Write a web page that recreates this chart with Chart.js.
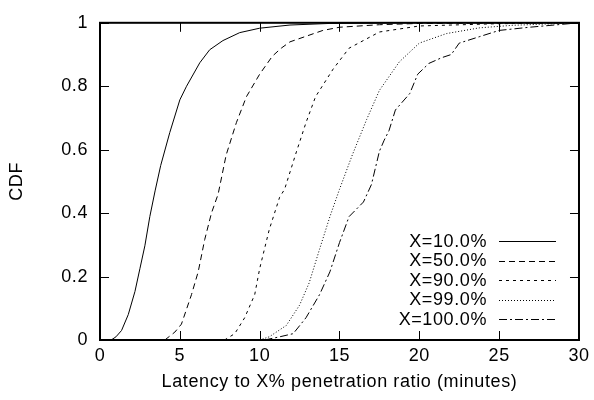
<!DOCTYPE html>
<html>
<head>
<meta charset="utf-8">
<script src="https://cdn.jsdelivr.net/npm/chart.js@4"></script>
<style>
  html, body { margin: 0; padding: 0; background: #fff; }
  #wrap { width: 594px; height: 400px; }
</style>
</head>
<body>
<div id="wrap"><canvas id="cdfChart" width="594" height="400"></canvas></div>
<script>
// series (minutes, CDF)
var labels = ['X=10.0%', 'X=50.0%', 'X=90.0%', 'X=99.0%', 'X=100.0%'];

var x10 = [0.7, 1.0, 1.35, 1.77, 2.19, 2.5, 2.81, 3.12, 3.45, 3.8, 4.37, 5.0, 5.42, 6.25, 6.87, 7.7, 8.75, 10, 11.9, 14.4, 20, 30];
var y10 = [0, 0.01, 0.03, 0.08, 0.153, 0.225, 0.297, 0.389, 0.47, 0.55, 0.654, 0.757, 0.80, 0.874, 0.915, 0.944, 0.969, 0.983, 0.993, 0.998, 1, 1];

var x50 = [4.06, 4.69, 5.1, 5.73, 6.15, 6.56, 6.98, 7.4, 7.9, 8.54, 9.17, 10, 10.8, 11.35, 11.9, 13.96, 15, 17.5, 20, 30];
var y50 = [0, 0.025, 0.05, 0.143, 0.215, 0.317, 0.40, 0.46, 0.583, 0.685, 0.767, 0.838, 0.895, 0.92, 0.94, 0.976, 0.986, 0.994, 0.998, 1];

var x90 = [7.8, 8.44, 9.06, 9.69, 10, 10.6, 11.25, 11.56, 12.3, 12.9, 13.5, 14.6, 15.6, 17.5, 20, 24.8, 30];
var y90 = [0, 0.02, 0.07, 0.143, 0.225, 0.348, 0.45, 0.475, 0.593, 0.685, 0.767, 0.854, 0.92, 0.971, 0.99, 0.997, 1];

var x99 = [10, 10.6, 11.67, 12.5, 13.1, 13.75, 14.4, 15, 15.8, 16.7, 17.5, 18.75, 20, 21.7, 23.75, 25.8, 30];
var y99 = [0, 0.01, 0.046, 0.11, 0.18, 0.286, 0.389, 0.475, 0.583, 0.695, 0.787, 0.877, 0.936, 0.966, 0.984, 0.992, 1];

var x100 = [10.3, 11.25, 12.1, 12.9, 13.75, 14.4, 15, 15.6, 16.5, 17, 17.5, 17.8, 18.1, 18.5, 19.4, 19.9, 20.6, 21.4, 22, 22.5, 23.75, 25, 26.9, 30];
var y100 = [0, 0.01, 0.02, 0.07, 0.143, 0.215, 0.307, 0.389, 0.435, 0.49, 0.595, 0.63, 0.66, 0.725, 0.777, 0.838, 0.872, 0.89, 0.9, 0.936, 0.956, 0.976, 0.986, 1];

var xTicks = [0, 5, 10, 15, 20, 25, 30];
var yTicks = [0, 0.2, 0.4, 0.6, 0.8, 1];

var allX = [x10, x50, x90, x99, x100];
var allY = [y10, y50, y90, y99, y100];
var dashes = [[], [6, 4], [3, 4], [1, 2], [8, 3, 2, 3]];

function toPoints(xs, ys) {
    var pts = [];
    for (var i = 0; i < xs.length; i++) pts.push({ x: xs[i], y: ys[i] });
    return pts;
}

var datasets = labels.map(function (lab, i) {
    return {
        label: lab,
        data: toPoints(allX[i], allY[i]),
        borderColor: '#000',
        borderWidth: 1,
        borderDash: dashes[i],
        pointRadius: 0,
        fill: false,
        tension: 0
    };
});

var fontFam = '"Liberation Sans", Arial, sans-serif';
var fontSize = 18;
var spacing = '0.6px';

// gnuplot text is a bit wider than Arial, so space the letters a little
var wideText = {
    id: 'wideText',
    beforeDraw: function (chart) {
        chart.ctx.letterSpacing = spacing;
    }
};

// gnuplot-like frame, inward ticks and key
var gnuFrame = {
    id: 'gnuFrame',
    afterDraw: function (chart) {
        var c = chart.ctx, a = chart.chartArea;
        var xs = chart.scales.x, ys = chart.scales.y;
        c.save();
        c.strokeStyle = '#000';
        c.lineWidth = 1;
        xTicks.forEach(function (v) {
            var px = Math.round(xs.getPixelForValue(v)) + 0.5;
            c.beginPath();
            c.moveTo(px, a.bottom); c.lineTo(px, a.bottom - 9);
            c.moveTo(px, a.top); c.lineTo(px, a.top + 9);
            c.stroke();
        });
        yTicks.forEach(function (v) {
            var py = Math.round(ys.getPixelForValue(v)) + 0.5;
            c.beginPath();
            c.moveTo(a.left, py); c.lineTo(a.left + 9, py);
            c.moveTo(a.right, py); c.lineTo(a.right - 9, py);
            c.stroke();
        });
        c.lineWidth = 2;
        c.strokeRect(a.left, a.top, a.right - a.left, a.bottom - a.top);

        // key
        c.lineWidth = 1;
        c.font = fontSize + 'px ' + fontFam;
        c.letterSpacing = spacing;
        c.fillStyle = '#000';
        c.textAlign = 'right';
        c.textBaseline = 'middle';
        labels.forEach(function (lab, i) {
            var y = 241 + i * 19.5;
            c.fillText(lab, 487, y + 1);
            c.setLineDash(dashes[i]);
            c.beginPath();
            c.moveTo(499, Math.round(y) + 0.5);
            c.lineTo(556, Math.round(y) + 0.5);
            c.stroke();
        });
        c.restore();
    }
};

var ctx = document.getElementById('cdfChart').getContext('2d');
var cdfChart = new Chart(ctx, {
    type: 'line',
    data: { datasets: datasets },
    options: {
        responsive: false,
        animation: false,
        layout: { padding: { top: 14, right: 14, left: 0, bottom: 0 } },
        plugins: {
            legend: { display: false },
            tooltip: { enabled: false }
        },
        scales: {
            x: {
                type: 'linear',
                min: 0, max: 30,
                afterFit: function (s) { s.height = 60; },
                afterBuildTicks: function (s) { s.ticks = xTicks.map(function (v) { return { value: v }; }); },
                grid: { display: false, drawTicks: false },
                border: { display: false },
                ticks: { color: '#000', font: { family: fontFam, size: fontSize }, padding: 5, maxRotation: 0 },
                title: { display: true, text: 'Latency to X% penetration ratio (minutes)', color: '#000', font: { family: fontFam, size: fontSize }, padding: { top: 0, bottom: 7 } }
            },
            y: {
                min: 0, max: 1,
                afterFit: function (s) { s.width = 100; },
                afterBuildTicks: function (s) { s.ticks = yTicks.map(function (v) { return { value: v }; }); },
                grid: { display: false, drawTicks: false },
                border: { display: false },
                ticks: {
                    color: '#000', font: { family: fontFam, size: fontSize }, padding: 12,
                    callback: function (v) { return String(Math.round(v * 10) / 10); }
                },
                title: { display: true, text: 'CDF', color: '#000', font: { family: fontFam, size: fontSize }, padding: { top: 6, bottom: 0 } }
            }
        }
    },
    plugins: [wideText, gnuFrame]
});
</script>
</body>
</html>
